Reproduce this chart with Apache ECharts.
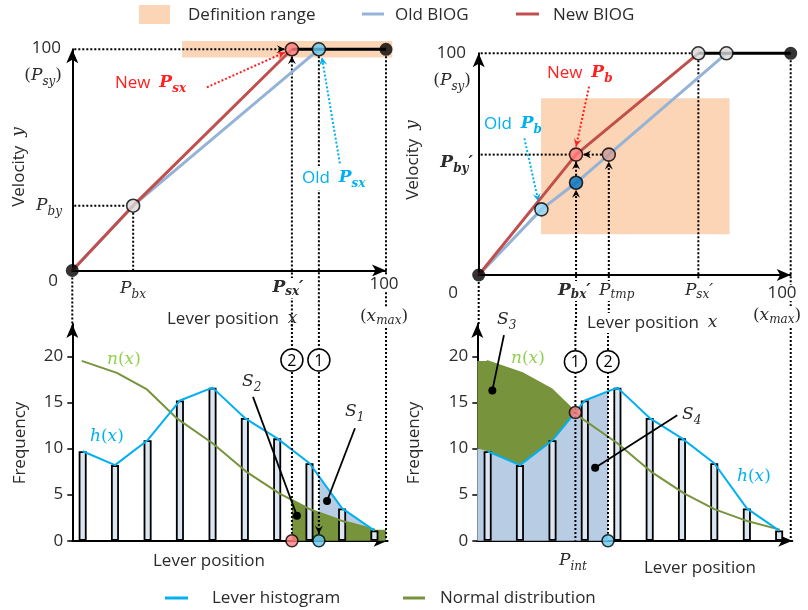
<!DOCTYPE html>
<html>
<head>
<meta charset="utf-8">
<title>BIOG</title>
<style>html,body{margin:0;padding:0;background:#fff;}</style>
</head>
<body>
<div id="main" style="width:808px;height:610px;"></div>
<script src="https://cdn.jsdelivr.net/npm/echarts@6.0.0/dist/echarts.min.js"></script>
<script>
// ---- top-left: old / new BIOG, saturation point moves ----
var tlOld = [[0, 0], [19.4, 29.3], [78.6, 100]];
var tlNew = [[0, 0], [19.4, 29.3], [70, 100]];
var tlPb = [19.4, 29.3];
var tlNewPs = [70, 100];
var tlOldPs = [78.6, 100];
var tlMax = [100, 100];
var tlRange = [35, 96.3, 102, 103.7];

// ---- top-right: break point moves ----
var trOld = [[0, 0], [20.1, 29.6], [31.2, 41.6], [41.7, 54.3], [79.4, 100]];
var trNew = [[0, 0], [31.2, 54.3], [70.4, 100]];
var trOldPb = [20.1, 29.6];
var trOldAtBx = [31.2, 41.6];
var trNewPb = [31.2, 54.3];
var trTmp = [41.7, 54.3];
var trNewPs = [70.4, 100];
var trOldPs = [79.4, 100];
var trMax = [100, 100];
var trRange = [20, 18.4, 80.4, 79.7];

// ---- histograms ----
var barX = [3.3, 13.6, 24.0, 34.3, 44.7, 55.0, 65.3, 75.6, 86.0, 96.3];
var barH = [9.7, 8.2, 10.9, 15.2, 16.6, 13.3, 11.1, 8.4, 3.5, 1.1];
var normX = [3, 14.2, 23.8, 33.2, 44.6, 55.4, 66.1, 75.8, 86.4, 96.5];
var normY = [19.5, 18.2, 16.4, 13.3, 10.6, 7.5, 5.1, 3.4, 2.1, 1.2];
var hStart = [0, 10.0];      // left edge of h(x) fill, right histogram
var brInt = [31.3, 13.9];    // P_int
var yTicks = [0, 5, 10, 15, 20];

var SANS = '"Open Sans", Lato, sans-serif';
var MATH = '"DejaVu Serif", serif';
var INK = '#2b2b2b';
var RED = '#ff2020';
var SKY = '#00b0f0';
var FS = 17;

var histPts = barX.map(function (x, i) { return [x, barH[i]]; });
var normPts = normX.map(function (x, i) { return [x, normY[i]]; });
var axis0 = [[0, 0], [100.5, 0]];

function yAt(pts, x) {
    if (x <= pts[0][0]) return pts[0][1];
    for (var i = 1; i < pts.length; i++) {
        if (x <= pts[i][0]) {
            var a = pts[i - 1], b = pts[i];
            return a[1] + (b[1] - a[1]) * (x - a[0]) / (b[0] - a[0]);
        }
    }
    return pts[pts.length - 1][1];
}
// polygon between two curves from x0 to x1
function band(upper, lower, x0, x1) {
    var pts = [[x0, yAt(upper, x0)]];
    upper.forEach(function (p) { if (p[0] > x0 && p[0] < x1) pts.push(p); });
    pts.push([x1, yAt(upper, x1)]);
    pts.push([x1, yAt(lower, x1)]);
    lower.slice().reverse().forEach(function (p) { if (p[0] > x0 && p[0] < x1) pts.push(p); });
    pts.push([x0, yAt(lower, x0)]);
    return pts;
}

function head(tip, from, color) {
    var dx = tip[0] - from[0], dy = tip[1] - from[1];
    var len = Math.sqrt(dx * dx + dy * dy), ux = dx / len, uy = dy / len;
    var L = 8, W = 4, N = 5;
    return {
        type: 'polygon',
        shape: {points: [tip,
            [tip[0] - ux * L - uy * W, tip[1] - uy * L + ux * W],
            [tip[0] - ux * N, tip[1] - uy * N],
            [tip[0] - ux * L + uy * W, tip[1] - uy * L - ux * W]]},
        style: {fill: color}
    };
}
function dotted(a, b, color, arrow) {
    color = color || '#000';
    var out = [{type: 'line', shape: {x1: a[0], y1: a[1], x2: b[0], y2: b[1]},
        style: {stroke: color, lineWidth: 2, lineDash: [2, 2]}}];
    if (arrow) out.push(head(b, a, color));
    return out;
}
function callout(a, b) {
    return [
        {type: 'line', shape: {x1: a[0], y1: a[1], x2: b[0], y2: b[1]}, style: {stroke: '#000', lineWidth: 1.8}},
        {type: 'circle', shape: {cx: b[0], cy: b[1], r: 4}, style: {fill: '#000'}}
    ];
}
function circled(p, n) {
    return [
        {type: 'circle', shape: {cx: p[0], cy: p[1], r: 11}, style: {fill: '#fff', stroke: '#000', lineWidth: 1.5}},
        {type: 'text', x: p[0], y: p[1] + 1, style: {text: n, align: 'center', verticalAlign: 'middle', fill: '#000', font: '16px ' + SANS}}
    ];
}

function tlGuides(params, api) {
    var c = api.coord;
    var o = c([0, 0]), pb = c(tlPb), ns = c(tlNewPs), os = c(tlOldPs), mx = c(tlMax);
    var low = o[1] + 56;
    var els = [].concat(
        dotted([o[0] + 2, ns[1]], [ns[0] - 7, ns[1]], '#000', true),
        dotted([o[0] + 2, pb[1]], [pb[0] - 7, pb[1]]),
        dotted([pb[0], pb[1] + 7], [pb[0], o[1]]),
        dotted([ns[0], low], [ns[0], ns[1] + 7], '#000', true),
        dotted([os[0], os[1] + 7], [os[0], low]),
        dotted([mx[0], mx[1] + 7], [mx[0], low]),
        dotted([o[0], o[1] + 7], [o[0], low]),
        dotted([ns[0] - 85, ns[1] + 38], [ns[0] - 7, ns[1] + 3], RED, true),
        dotted([os[0] + 21, os[1] + 114], [os[0] + 3, os[1] + 8], SKY, true)
    );
    return {type: 'group', children: els};
}
function trGuides(params, api) {
    var c = api.coord;
    var o = c([0, 0]), np = c(trNewPs), mx = c(trMax), nb = c(trNewPb), tp = c(trTmp),
        bx = c(trOldAtBx), ob = c(trOldPb);
    var low = o[1] + 51;
    var els = [].concat(
        dotted([o[0] + 2, np[1]], [np[0] - 7, np[1]]),
        dotted([np[0], np[1] + 7], [np[0], o[1] + 4]),
        dotted([mx[0], mx[1] + 7], [mx[0], low]),
        dotted([o[0], o[1] + 7], [o[0], low]),
        dotted([o[0] + 2, nb[1]], [nb[0] - 7, nb[1]]),
        dotted([tp[0] - 7, tp[1]], [nb[0] + 7, nb[1]], '#000', true),
        dotted([tp[0], low], [tp[0], tp[1] + 7], '#000', true),
        dotted([bx[0], low], [bx[0], bx[1] + 7], '#000', true),
        dotted([bx[0], bx[1] - 7], [bx[0], nb[1] + 7], '#000', true),
        dotted([nb[0] + 13, nb[1] - 68], [nb[0], nb[1] - 8], RED, true),
        dotted([ob[0] - 17, ob[1] - 71], [ob[0] - 3, ob[1] - 8], SKY, true)
    );
    return {type: 'group', children: els};
}
function blGuides(params, api) {
    var c = api.coord;
    var x2 = tlNewPs[0], x1 = tlOldPs[0];
    var top = c([0, 23.5])[1], base = c([0, 0])[1];
    var els = [].concat(
        dotted([c([x2, 0])[0], top], [c([x2, 0])[0], base - 7]),
        dotted([c([x1, 0])[0], top], [c([x1, 0])[0], base - 7], '#000', true),
        dotted([c([100, 0])[0], top], [c([100, 0])[0], base]),
        circled(c([x2, 19.6]), '2'),
        circled(c([x1, 19.6]), '1'),
        callout(c([57.6, 15.6]), c([71.6, 2.7])),
        callout(c([90.1, 12.2]), c([81.2, 4.3]))
    );
    return {type: 'group', children: els};
}
function brGuides(params, api) {
    var c = api.coord;
    var x1 = brInt[0], x2 = trTmp[0];
    var top = c([0, 23.5])[1], base = c([0, 0])[1];
    var els = [].concat(
        dotted([c([x1, 0])[0], top], [c([x1, 0])[0], base]),
        dotted([c([x2, 0])[0], top], [c([x2, 0])[0], base - 7]),
        dotted([c([100, 0])[0], top], [c([100, 0])[0], base]),
        circled(c([x1, 19.4]), '1'),
        circled(c([x2, 19.4]), '2'),
        callout(c([8.5, 22.3]), c([4.8, 16.3])),
        callout(c([63.8, 13.6]), c([37.6, 7.9]))
    );
    return {type: 'group', children: els};
}
function rangeRect(params, api) {
    var a = api.coord([api.value(0), api.value(3)]);
    var b = api.coord([api.value(2), api.value(1)]);
    return {type: 'rect', shape: {x: a[0], y: a[1], width: b[0] - a[0], height: b[1] - a[1]},
        style: {fill: '#fbd5b5'}};
}
function polyFn(getPts, color) {
    return function (params, api) {
        var pts = getPts().map(function (p) { return api.coord(p); });
        return {type: 'polygon', shape: {points: pts}, style: {fill: color}};
    };
}

function arrowAxis() {
    return {show: true, onZero: false, symbol: ['none', 'arrow'], symbolSize: [9, 14],
        lineStyle: {color: '#000', width: 2}};
}
function plainAxis(grid, max) {
    return {gridIndex: grid, type: 'value', min: 0, max: max, axisLine: arrowAxis(),
        axisTick: {show: false}, axisLabel: {show: false}, splitLine: {show: false}};
}
function freqAxis(grid) {
    return {gridIndex: grid, type: 'value', min: 0, max: 23.5, axisLine: arrowAxis(),
        axisTick: {show: true, length: 5, customValues: yTicks, lineStyle: {color: '#000', width: 1.5}},
        axisLabel: {customValues: yTicks, fontFamily: SANS, fontSize: FS, color: INK, margin: 9},
        splitLine: {show: false}};
}
function lineS(xi, data, color, w, z) {
    return {type: 'line', xAxisIndex: xi, yAxisIndex: xi, data: data, symbol: 'none', clip: false,
        lineStyle: {color: color, width: w}, z: z, silent: true};
}
function dots(xi, items, size) {
    return {type: 'scatter', xAxisIndex: xi, yAxisIndex: xi, clip: false, symbolSize: size || 13, z: 10,
        silent: true,
        data: items.map(function (it) {
            return {value: it[0], itemStyle: {color: it[1], borderColor: '#000', borderWidth: it[1] === '#000' ? 0 : 1.6}};
        })};
}
function custom(xi, render, data, z) {
    return {type: 'custom', xAxisIndex: xi, yAxisIndex: xi, data: data || [[0, 0]], renderItem: render,
        clip: false, silent: true, z: z};
}
function bars(xi) {
    return {type: 'bar', xAxisIndex: xi, yAxisIndex: xi, data: histPts, barWidth: 8, silent: true, z: 3,
        itemStyle: {color: '#dce6f2', borderColor: '#000', borderWidth: 1.8}};
}

// ---- text ----
function rs(color, lh) {
    color = color || INK;
    lh = lh || 24;
    return {
        t: {fontFamily: SANS, fontSize: FS, fill: color, lineHeight: lh},
        m: {fontFamily: MATH, fontStyle: 'italic', fontSize: 17, fill: color, lineHeight: lh},
        r: {fontFamily: MATH, fontSize: 17, fill: color, lineHeight: lh},
        s: {fontFamily: MATH, fontStyle: 'italic', fontSize: 12, fill: color, verticalAlign: 'bottom'},
        b: {fontFamily: MATH, fontStyle: 'italic', fontWeight: 'bold', fontSize: 17, fill: color, lineHeight: lh},
        bs: {fontFamily: MATH, fontStyle: 'italic', fontWeight: 'bold', fontSize: 12, fill: color, verticalAlign: 'bottom'},
        R: {fontFamily: SANS, fontSize: FS, fill: RED, lineHeight: lh},
        RB: {fontFamily: MATH, fontStyle: 'italic', fontWeight: 'bold', fontSize: 17, fill: RED, lineHeight: lh},
        RS: {fontFamily: MATH, fontStyle: 'italic', fontWeight: 'bold', fontSize: 12, fill: RED, verticalAlign: 'bottom'},
        B: {fontFamily: SANS, fontSize: FS, fill: SKY, lineHeight: lh},
        BB: {fontFamily: MATH, fontStyle: 'italic', fontWeight: 'bold', fontSize: 17, fill: SKY, lineHeight: lh},
        BS: {fontFamily: MATH, fontStyle: 'italic', fontWeight: 'bold', fontSize: 12, fill: SKY, verticalAlign: 'bottom'}
    };
}
function label(x, y, text, opt) {
    opt = opt || {};
    var st = {text: text, rich: rs(opt.color, opt.lh), align: opt.align || 'left', verticalAlign: 'middle'};
    if (opt.bg) { st.backgroundColor = '#fff'; st.padding = [0, 1]; }
    return {type: 'text', x: x, y: y, z: 100, rotation: opt.rot || 0, style: st};
}

var texts = [
    // legends
    {type: 'rect', shape: {x: 139, y: 5, width: 31, height: 19}, style: {fill: '#fbd5b5'}},
    label(188, 15, '{t|Definition range}'),
    {type: 'line', shape: {x1: 362, y1: 14, x2: 384, y2: 14}, style: {stroke: '#95b3d7', lineWidth: 3}},
    label(395, 15, '{t|Old BIOG}'),
    {type: 'line', shape: {x1: 516, y1: 14, x2: 539, y2: 14}, style: {stroke: '#c0504d', lineWidth: 3}},
    label(553, 15, '{t|New BIOG}'),
    {type: 'line', shape: {x1: 165, y1: 598, x2: 188, y2: 598}, style: {stroke: SKY, lineWidth: 3}},
    label(212, 598, '{t|Lever histogram}'),
    {type: 'line', shape: {x1: 403, y1: 598, x2: 425, y2: 598}, style: {stroke: '#77933c', lineWidth: 3}},
    label(440, 598, '{t|Normal distribution}'),

    // top-left
    label(61, 48, '{t|100}', {align: 'right'}),
    label(62, 76, '{r|(}{m|P}{s|sy}{r|)}', {align: 'right'}),
    label(19, 167, '{t|Velocity}{t|  }{m|y}', {align: 'center', rot: Math.PI / 2}),
    label(62, 206, '{m|P}{s|by}', {align: 'right'}),
    label(53, 281, '{t|0}', {align: 'center'}),
    label(133, 289, '{m|P}{s|bx}', {align: 'center'}),
    label(288, 288, '{b|P}{bs|sx}{b|′}', {align: 'center', bg: true, lh: 20}),
    label(384, 284, '{t|100}', {align: 'center', bg: true, lh: 16}),
    label(384, 317, '{r|(}{m|x}{s|max}{r|)}', {align: 'center', bg: true, lh: 20}),
    label(167, 319, '{t|Lever position}{t|  }{m|x}'),
    label(115, 83, '{R|New}{R|  }{RB|P}{RS|sx}'),
    label(301, 178, '{B|Old}{B|  }{BB|P}{BS|sx}', {bg: true}),

    // top-right
    label(466, 53, '{t|100}', {align: 'right'}),
    label(471, 81, '{r|(}{m|P}{s|sy}{r|)}', {align: 'right'}),
    label(413, 160, '{t|Velocity}{t|  }{m|y}', {align: 'center', rot: Math.PI / 2}),
    label(473, 163, '{b|P}{bs|by}{b|′}', {align: 'right'}),
    label(547, 73, '{R|New}{R|  }{RB|P}{RS|b}'),
    label(484, 124, '{B|Old}{B|  }{BB|P}{BS|b}'),
    label(453, 293, '{t|0}', {align: 'center'}),
    label(557, 291, '{b|P}{bs|bx}{b|′}', {bg: true, lh: 20}),
    label(598, 291, '{m|P}{s|tmp}', {bg: true, lh: 20}),
    label(699, 291, '{m|P}{s|sx}{m|′}', {align: 'center', bg: true, lh: 20}),
    label(782, 293, '{t|100}', {align: 'center', bg: true, lh: 16}),
    label(777, 316, '{r|(}{m|x}{s|max}{r|)}', {align: 'center', bg: true, lh: 20}),
    label(586, 323, '{t|Lever position}{t|  }{m|x}', {bg: true, lh: 20}),

    // bottom-left
    label(20, 443, '{t|Frequency}', {align: 'center', rot: Math.PI / 2}),
    label(107, 360, '{m|n}{r|(}{m|x}{r|)}', {color: '#92d050'}),
    label(90, 437, '{m|h}{r|(}{m|x}{r|)}', {color: SKY}),
    label(242, 382, '{m|S}{s|2}'),
    label(345, 412, '{m|S}{s|1}'),
    label(153, 561, '{t|Lever position}'),

    // bottom-right
    label(414, 443, '{t|Frequency}', {align: 'center', rot: Math.PI / 2}),
    label(497, 320, '{m|S}{s|3}'),
    label(511, 359, '{m|n}{r|(}{m|x}{r|)}', {color: '#92d050'}),
    label(682, 415, '{m|S}{s|4}'),
    label(737, 477, '{m|h}{r|(}{m|x}{r|)}', {color: SKY}),
    label(559, 561, '{m|P}{s|int}'),
    label(644, 568, '{t|Lever position}')
];

var myChart = echarts.init(document.getElementById('main'), null, {renderer: 'canvas'});
myChart.setOption({
    animation: false,
    backgroundColor: '#fff',
    grid: [
        {left: 72.3, top: 49.3, width: 313.7, height: 221.2},
        {left: 478.7, top: 53.3, width: 312, height: 221.7},
        {left: 72.3, top: 324, width: 315.3, height: 216.7},
        {left: 477.3, top: 324, width: 315, height: 216.7}
    ],
    xAxis: [plainAxis(0, 100), plainAxis(1, 100), plainAxis(2, 100.5), plainAxis(3, 100.5)],
    yAxis: [plainAxis(0, 100), plainAxis(1, 100), freqAxis(2), freqAxis(3)],
    graphic: texts,
    series: [
        // top-left
        custom(0, rangeRect, [tlRange], 1),
        custom(0, tlGuides, null, 3),
        lineS(0, tlOld, '#95b3d7', 3, 4),
        lineS(0, tlNew, '#c0504d', 3, 5),
        lineS(0, [tlNewPs, tlMax], '#000', 3, 5),
        dots(0, [[[0, 0], '#000'], [tlPb, '#d9d9d9'], [tlNewPs, '#ff7c80'], [tlOldPs, '#66c8f2'], [tlMax, '#000']]),

        // top-right
        custom(1, rangeRect, [trRange], 1),
        custom(1, trGuides, null, 3),
        lineS(1, trOld, '#95b3d7', 3, 4),
        lineS(1, trNew, '#c0504d', 3, 5),
        lineS(1, [trNewPs, trMax], '#000', 3, 5),
        dots(1, [[[0, 0], '#000'], [trOldPb, '#8fd4f5'], [trOldAtBx, '#0070c0'], [trNewPb, '#ff7c80'],
            [trTmp, '#cc9999'], [trNewPs, '#d9d9d9'], [trOldPs, '#d9d9d9'], [trMax, '#000']]),

        // bottom-left
        custom(2, polyFn(function () { return band(normPts, axis0, tlNewPs[0], 100); }, '#77933c'), null, 1),
        custom(2, polyFn(function () { return band(histPts, normPts, tlOldPs[0], barX[barX.length - 1]); }, '#b8cce4'), null, 1),
        bars(2),
        lineS(2, normPts, '#77933c', 2, 5),
        lineS(2, histPts, SKY, 2, 6),
        custom(2, blGuides, null, 7),
        dots(2, [[[tlNewPs[0], 0], '#ff7c80'], [[tlOldPs[0], 0], '#66c8f2']], 12),

        // bottom-right
        custom(3, polyFn(function () { return band([hStart].concat(histPts), axis0, 0, trTmp[0]); }, '#b8cce4'), null, 1),
        custom(3, polyFn(function () { return band(normPts, [hStart].concat(histPts), 0, brInt[0]); }, '#77933c'), null, 2),
        bars(3),
        lineS(3, normPts, '#77933c', 2, 5),
        lineS(3, histPts, SKY, 2, 6),
        custom(3, brGuides, null, 7),
        dots(3, [[brInt, '#ff7c80'], [[trTmp[0], 0], '#66c8f2']], 12)
    ]
});
</script>
</body>
</html>
